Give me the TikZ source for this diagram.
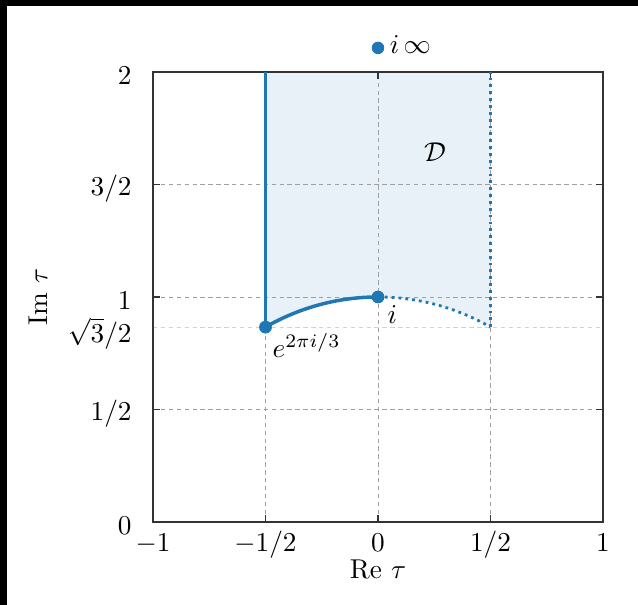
\documentclass[tikz,border=0pt]{standalone}
\usepackage{amsmath}
\definecolor{tabblue}{HTML}{1F77B4}
\begin{document}
\begin{tikzpicture}[scale=4.5,
  gridline/.style={gray!75, line width=0.4pt, dash pattern=on 2.5pt off 2pt},
  faintgrid/.style={gray!35, line width=0.4pt, dash pattern=on 2.5pt off 2pt},
  framebox/.style={black!80, line width=0.6pt},
  tickmark/.style={black!80, line width=0.6pt},
  bound/.style={tabblue, line width=2pt},
  dotbound/.style={tabblue, line width=1.6pt, dash pattern=on 1.6pt off 2.3pt},
  pt/.style={circle, fill=tabblue, inner sep=0pt, minimum size=0.25cm},
  txt/.style={inner sep=0pt, scale=1.55},
  xlab/.style={txt, anchor=base},
  ylab/.style={txt, anchor=east}]
\useasboundingbox (-1.68,-0.3689) rectangle (1.1556,2.32);
% black edges of the reference
\fill[black] (-1.68,2.2933) rectangle (1.1556,2.32);
\fill[black] (-1.68,-0.3689) rectangle (-1.649,2.32);
% fundamental domain
\fill[tabblue, fill opacity=0.1] (-0.5,2) -- (-0.5,0.8660) arc[start angle=120,end angle=60,radius=1] -- (0.5,2) -- cycle;
% grid
\foreach \x in {-0.5,0,0.5} \draw[gridline] (\x,0) -- (\x,2);
\foreach \y in {0.5,1,1.5} \draw[gridline] (-1,\y) -- (1,\y);
\draw[faintgrid] (-1,0.8660) -- (1,0.8660);
% frame and ticks
\draw[framebox] (-1,0) rectangle (1,2);
\foreach \x in {-0.5,0,0.5} {
  \draw[tickmark] (\x,0) -- (\x,0.03);
  \draw[tickmark] (\x,2) -- (\x,1.97);
}
\foreach \y in {0.5,1,1.5} {
  \draw[tickmark] (-1,\y) -- (-0.97,\y);
  \draw[tickmark] (1,\y) -- (0.97,\y);
}
% tick labels
\node[xlab] at (-1,-0.129) {$-1$};
\node[xlab] at (-0.5,-0.129) {$-1/2$};
\node[xlab] at (0,-0.129) {$0$};
\node[xlab] at (0.5,-0.129) {$1/2$};
\node[xlab] at (1,-0.129) {$1$};
\node[ylab] at (-1.093,-0.018) {$0$};
\node[ylab] at (-1.093,0.482) {$1/2$};
\node[ylab] at (-1.093,0.838) {$\sqrt{3}/2$};
\node[ylab] at (-1.093,0.985) {$1$};
\node[ylab] at (-1.093,1.482) {$3/2$};
\node[ylab] at (-1.093,1.982) {$2$};
\node[txt, anchor=base] (relab) at (0,-0.252) {Re $\tau$};
\node[txt, rotate=90] (imlab) at (-1.511,1.0) {Im $\tau$};
% boundary
\coordinate (topl) at (-0.5,2);
\coordinate (topr) at (0.5,2);
\coordinate (rhor) at (0.5,0.8660);
\node[pt] (rho) at (-0.5,0.8660) {};
\node[pt] (ipt) at (0,1) {};
\draw[bound] (rho.center) -- (topl);
\draw[bound] (rho.center) arc[start angle=120,end angle=90,radius=1];
\draw[dotbound] (ipt.center) arc[start angle=90,end angle=60,radius=1];
\draw[dotbound] (rhor) -- (topr);
\node[pt] (rho2) at (-0.5,0.8660) {};
\node[pt] (ipt2) at (0,1) {};
\node[pt] (iinf) at (0,2.107) {};
% labels
\node[txt, anchor=north west] (rholab) at (-0.471,0.842) {$e^{2\pi i/3}$};
\node[txt, anchor=base west] (ilab) at (0.04,0.884) {$i$};
\node[txt, anchor=base west] (iinflab) at (0.05,2.08) {$i\,\infty$};
\node[txt] (dlab) at (0.2533,1.644) {$\mathcal{D}$};
\end{tikzpicture}
\end{document}
